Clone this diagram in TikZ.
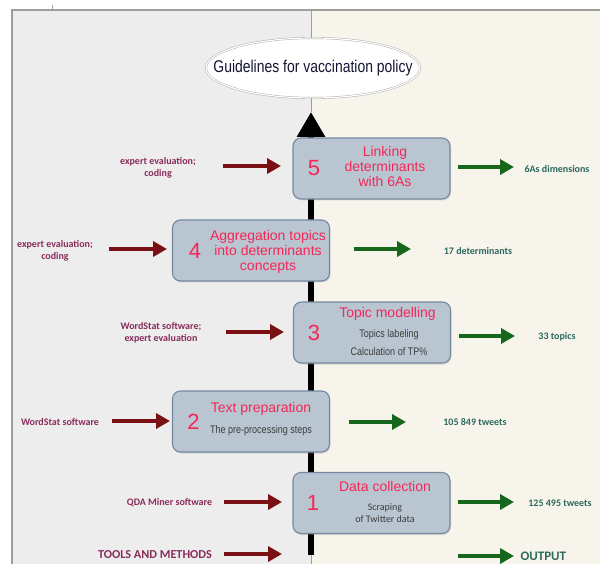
\documentclass[tikz,border=0pt]{standalone}
\usepackage{fontspec}
\setmainfont{Liberation Sans}
\newfontfamily\calfont{Carlito}
\newfontfamily\narrowfont[FakeStretch=0.82]{Liberation Sans}
\usetikzlibrary{arrows.meta,shadows,shapes.geometric}
\definecolor{leftbg}{HTML}{EDEDED}
\definecolor{rightbg}{HTML}{F7F4EC}
\definecolor{panelline}{HTML}{9E9E9E}
\definecolor{boxfill}{HTML}{B9C6D2}
\definecolor{boxline}{HTML}{7489A0}
\definecolor{titlered}{RGB}{246,38,86}
\definecolor{smallgray}{HTML}{3C3C3C}
\definecolor{toolred}{HTML}{7A1014}
\definecolor{outgreen}{HTML}{16661C}
\definecolor{toolpurple}{HTML}{8A2C5C}
\definecolor{outteal}{HTML}{2B6A5C}
\begin{document}
\begin{tikzpicture}[x=1pt,y=-1pt,
 stepbox/.style={draw=boxline, line width=1.1pt, fill=boxfill, rounded corners=8pt,
   minimum height=61pt, inner sep=0pt,
   drop shadow={opacity=0.25, shadow xshift=1pt, shadow yshift=-1.5pt}},
 num/.style={font=\fontsize{22}{22}\selectfont, text=titlered},
 steptitle/.style={font=\fontsize{14}{15}\selectfont, text=titlered, align=center},
 sub/.style={font=\narrowfont\fontsize{11}{12}\selectfont, text=smallgray},
 subc/.style={font=\calfont\fontsize{10}{12}\selectfont, text=smallgray, align=center},
 toollab/.style={font=\calfont\bfseries\fontsize{10}{12}\selectfont, text=toolpurple, align=center},
 outlab/.style={font=\calfont\bfseries\fontsize{10}{12}\selectfont, text=outteal},
 toolarrow/.style={draw=toolred, line width=3.5pt, -{Triangle[length=14pt,width=15pt]}},
 outarrow/.style={draw=outgreen, line width=3.5pt, -{Triangle[length=14pt,width=15pt]}},
]
\useasboundingbox (0,0) rectangle (600,564);
% panels
\fill[leftbg] (12,10) rectangle (311,564);
\fill[rightbg] (311,10) rectangle (600,564);
\draw[panelline, line width=1.2pt] (12,564) -- (12,10) -- (600,10);
\draw[panelline, line width=0.8pt] (52,5) -- (52,10);
% goal ellipse
\node[ellipse, draw=gray!70, double=white, double distance=1.2pt, fill=white,
  minimum width=214pt, minimum height=60pt, inner sep=0pt] (g) at (313,68) {};
\node[font=\narrowfont\fontsize{17}{17}\selectfont, text={rgb,255:red,20;green,20;blue,50}]
  (gt) at (g.center) {Guidelines for vaccination policy};
\coordinate (divtop) at (311,10);
\coordinate (tip) at (311,112);
\coordinate (shaftbot) at (311,555);
\coordinate (bottom) at (311,564);
\draw[panelline, line width=1pt] (divtop) -- (g.north -| divtop);
\draw[panelline, line width=1pt] (g.south -| divtop) -- (tip);
\draw[panelline, line width=1pt] (shaftbot) -- (bottom);
\draw[black, line width=6pt, -{Triangle[length=25pt,width=27pt]}] (shaftbot) -- (tip);
% steps
\node[stepbox, minimum width=157pt] (b5) at (371.5,168.5) {};
\node[stepbox, minimum width=157pt] (b4) at (251,250.5) {};
\node[stepbox, minimum width=157pt] (b3) at (372,332.5) {};
\node[stepbox, minimum width=157pt] (b2) at (251,421.5) {};
\node[stepbox, minimum width=157pt] (b1) at (371.5,503) {};
% step texts
\node[num] (n5) at (314,168) {5};
\node[steptitle] (t5) at (385,166) {Linking\\determinants\\with 6As};
\node[num] (n4) at (195,251) {4};
\node[steptitle] (t4) at (268,251.5) {Aggregation topics\\into determinants\\concepts};
\node[num] (n3) at (314,333) {3};
\node[steptitle] (t3) at (387.5,314) {Topic modelling};
\node[sub] (s3a) at (389,335) {Topics labeling};
\node[sub] (s3b) at (389,352) {Calculation of TP\%};
\node[num] (n2) at (193.5,422) {2};
\node[steptitle] (t2) at (261,409) {Text preparation};
\node[sub] (s2) at (261,431) {The pre-processing steps};
\node[num] (n1) at (313,503) {1};
\node[steptitle] (t1) at (385,486) {Data collection};
\node[subc] (s1) at (385,513) {Scraping\\of Twitter data};
% tools and methods
\node[toollab] (l5) at (158,167.5) {expert evaluation;\\coding};
\node[toollab] (l4) at (55,251) {expert evaluation;\\coding};
\node[toollab] (l3) at (161,332.5) {WordStat software;\\expert evaluation};
\node[toollab] (l2) at (60,422) {WordStat software};
\node[toollab] (l1) at (169.5,503) {QDA Miner software};
\node[font=\calfont\bfseries\fontsize{12.2}{14}\selectfont, text=toolpurple] (lt) at (155,555) {TOOLS AND METHODS};
% outputs
\node[outlab] (o5) at (557,169) {6As dimensions};
\node[outlab] (o4) at (478,251) {17 determinants};
\node[outlab] (o3) at (557,337) {33 topics};
\node[outlab] (o2) at (475,422) {105 849 tweets};
\node[outlab] (o1) at (560,503) {125 495 tweets};
\node[font=\calfont\bfseries\fontsize{13}{14}\selectfont, text=outteal, anchor=west] (ot) at (517,556.5) {OUTPUT};
% arrows
\coordinate (a5s) at (223,166); \coordinate (a5e) at (281,166);
\coordinate (a4s) at (109,249); \coordinate (a4e) at (167,249);
\coordinate (a3s) at (226,332); \coordinate (a3e) at (284,332);
\coordinate (a2s) at (112,421); \coordinate (a2e) at (170,421);
\coordinate (a1s) at (224,502); \coordinate (a1e) at (282,502);
\coordinate (ats) at (224,554); \coordinate (ate) at (282,554);
\draw[toolarrow] (a5s) -- (a5e);
\draw[toolarrow] (a4s) -- (a4e);
\draw[toolarrow] (a3s) -- (a3e);
\draw[toolarrow] (a2s) -- (a2e);
\draw[toolarrow] (a1s) -- (a1e);
\draw[toolarrow] (ats) -- (ate);
\coordinate (r5s) at (458,167); \coordinate (r5e) at (514,167);
\coordinate (r4s) at (354,249); \coordinate (r4e) at (411,249);
\coordinate (r3s) at (459,336); \coordinate (r3e) at (515,336);
\coordinate (r2s) at (349,422); \coordinate (r2e) at (406,422);
\coordinate (r1s) at (458,502); \coordinate (r1e) at (514,502);
\coordinate (rts) at (458,556); \coordinate (rte) at (514,556);
\draw[outarrow] (r5s) -- (r5e);
\draw[outarrow] (r4s) -- (r4e);
\draw[outarrow] (r3s) -- (r3e);
\draw[outarrow] (r2s) -- (r2e);
\draw[outarrow] (r1s) -- (r1e);
\draw[outarrow] (rts) -- (rte);
\end{tikzpicture}
\end{document}
